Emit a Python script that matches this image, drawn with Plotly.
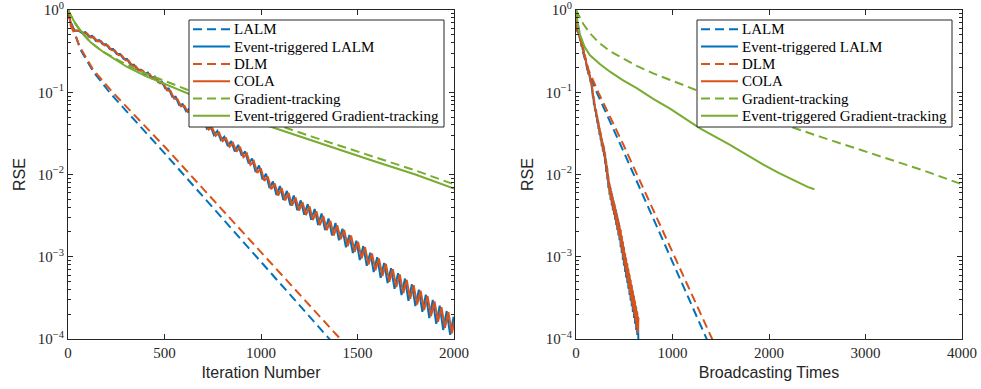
import numpy as np
import plotly.graph_objects as go

# ---------------- data (log10 of RSE) ----------------
# Left panel: iteration number
lalm_it = [0, 10, 28, 62, 131, 218, 500, 800, 1000, 1200, 1400]
lalm_log = [0, -0.12, -0.22, -0.47, -0.75, -1.01, -1.74, -2.53, -3.06, -3.59, -4.12]

dlm_it = [0, 15, 30, 62, 131, 235, 500, 800, 1000, 1200, 1409, 1450]
dlm_log = [0, -0.2, -0.27, -0.45, -0.73, -1.01, -1.66, -2.43, -2.95, -3.46, -4.0, -4.1]

gt_it = [0, 20, 38, 75, 120, 176, 250, 315, 400, 500, 608, 750, 1000, 1264, 1575, 1800, 2000]
gt_bc = [0, 40, 76, 150, 240, 352, 500, 630, 800, 1000, 1216, 1500, 2000, 2528, 3150, 3600, 4000]
gt_log = [0, -0.09, -0.17, -0.29, -0.4, -0.5, -0.6, -0.68, -0.77, -0.86, -0.96, -1.1, -1.33,
          -1.54, -1.78, -1.95, -2.12]

etgt_it = [0, 10, 30, 62, 114, 183, 304, 400, 500, 608, 750, 1000, 1264, 1575, 1800, 2000]
etgt_it_log = [0, -0.04, -0.13, -0.24, -0.385, -0.51, -0.69, -0.8, -0.9, -1.0, -1.14, -1.38,
               -1.59, -1.83, -2.0, -2.17]

etgt_bc = [0, 10, 24, 41, 90, 145, 250, 352, 480, 629, 800, 974, 1078, 1285, 1596, 1800,
           1941, 2100, 2300, 2400, 2470]
etgt_bc_log = [0, -0.12, -0.22, -0.3, -0.45, -0.55, -0.66, -0.75, -0.85, -0.95, -1.08, -1.2,
               -1.28, -1.44, -1.64, -1.785, -1.88, -1.98, -2.1, -2.15, -2.18]

# Event-triggered LALM samples (every 18 iterations)
etlalm_it = list(range(0, 2017, 18))
etlalm_log = [0, -0.2, -0.25, -0.25, -0.28, -0.27, -0.325, -0.315, -0.375, -0.365, -0.415, -0.415,
              -0.475, -0.475, -0.535, -0.535, -0.595, -0.595, -0.665, -0.665, -0.725, -0.725, -0.78,
              -0.76, -0.83, -0.81, -0.88, -0.87, -0.955, -0.955, -1.055, -1.055, -1.155, -1.145,
              -1.23, -1.2, -1.3, -1.27, -1.375, -1.335, -1.445, -1.405, -1.52, -1.47, -1.58, -1.54,
              -1.655, -1.595, -1.72, -1.64, -1.77, -1.72, -1.865, -1.805, -1.97, -1.89, -2.06,
              -1.99, -2.165, -2.085, -2.25, -2.14, -2.31, -2.2, -2.375, -2.255, -2.435, -2.315,
              -2.49, -2.36, -2.55, -2.42, -2.615, -2.475, -2.675, -2.535, -2.74, -2.59, -2.8, -2.66,
              -2.885, -2.735, -2.955, -2.805, -3.04, -2.87, -3.11, -2.95, -3.185, -3.005, -3.255,
              -3.075, -3.32, -3.14, -3.39, -3.2, -3.465, -3.265, -3.535, -3.335, -3.6, -3.4, -3.67,
              -3.46, -3.745, -3.525, -3.815, -3.595, -3.89, -3.66, -3.95, -3.73, -4.05]

# COLA samples
cola_it = [0] + list(range(9, 2008, 18))
cola_log = [0, -0.12, -0.24, -0.255, -0.255, -0.285, -0.285, -0.333, -0.332, -0.383, -0.377,
            -0.428, -0.432, -0.488, -0.492, -0.548, -0.552, -0.608, -0.617, -0.678, -0.682, -0.738,
            -0.737, -0.787, -0.778, -0.837, -0.828, -0.892, -0.893, -0.976, -0.984, -1.076, -1.084,
            -1.171, -1.164, -1.241, -1.224, -1.311, -1.294, -1.385, -1.36, -1.455, -1.43, -1.529,
            -1.491, -1.594, -1.561, -1.663, -1.617, -1.723, -1.662, -1.788, -1.747, -1.882, -1.838,
            -1.981, -1.924, -2.076, -2.024, -2.18, -2.11, -2.255, -2.165, -2.315, -2.225, -2.379,
            -2.281, -2.439, -2.336, -2.493, -2.387, -2.553, -2.447, -2.617, -2.503, -2.677, -2.563,
            -2.742, -2.618, -2.787, -2.673, -2.871, -2.744, -2.941, -2.819, -3.02, -2.885, -3.095,
            -2.96, -3.164, -3.021, -3.234, -3.086, -3.304, -3.151, -3.369, -3.216, -3.443, -3.282,
            -3.513, -3.347, -3.582, -3.413, -3.647, -3.478, -3.721, -3.544, -3.791, -3.614, -3.865,
            -3.675, -3.93, -3.74]

# Broadcasting times at each event-triggered sample
et_bc = [0, 4, 9, 15, 21, 27, 33, 39, 45, 51, 57, 63, 69, 75, 81, 87, 93, 99, 105, 111, 117, 122,
         128, 134, 140, 146, 152, 157, 163, 169, 175, 181, 186, 192, 198, 204, 210, 215, 221, 227,
         233, 238, 244, 250, 256, 261, 267, 273, 279, 284, 290, 296, 302, 307, 313, 319, 325, 330,
         336, 342, 348, 353, 359, 365, 371, 376, 382, 388, 394, 399, 405, 411, 417, 422, 428, 434,
         440, 445, 451, 457, 463, 468, 474, 480, 486, 491, 497, 503, 509, 514, 520, 526, 532, 537,
         543, 549, 555, 560, 566, 572, 578, 583, 589, 595, 601, 606, 612, 618, 624, 629, 635, 641,
         647]

names = ["LALM", "Event-triggered LALM", "DLM", "COLA", "Gradient-tracking",
         "Event-triggered Gradient-tracking"]
y_ticks = [1e-4, 1e-3, 1e-2, 1e-1, 1]
y_ticktext = ["10<sup>\u22124</sup>", "10<sup>\u22123</sup>", "10<sup>\u22122</sup>",
              "10<sup>\u22121</sup>", "10<sup>0</sup>"]

# ---------------- styling ----------------
BLUE = "#0072BD"
ORANGE = "#D95319"
GREEN = "#77AC30"
DASH = "9px,5px"
LW = 2
AX = "#262626"
SERIF = "Liberation Serif, Times New Roman, Times, serif"
SANS = "Liberation Sans, Arial, Helvetica, sans-serif"

colors = [BLUE, BLUE, ORANGE, ORANGE, GREEN, GREEN]
dashes = [DASH, "solid", DASH, "solid", DASH, "solid"]

def r(v):
    return 10 ** np.array(v, dtype=float)

fig = go.Figure()

def add(x, ylog, i, xa, ya):
    fig.add_trace(go.Scatter(x=x, y=r(ylog), mode="lines", name=names[i],
                             line=dict(color=colors[i], width=LW, dash=dashes[i]),
                             xaxis=xa, yaxis=ya, showlegend=False))

# left panel
add(lalm_it, lalm_log, 0, "x", "y")
add(etlalm_it, etlalm_log, 1, "x", "y")
add(dlm_it, dlm_log, 2, "x", "y")
add(cola_it, cola_log, 3, "x", "y")
add(gt_it, gt_log, 4, "x", "y")
add(etgt_it, etgt_it_log, 5, "x", "y")

# right panel
add(lalm_it, lalm_log, 0, "x2", "y2")
add(et_bc, etlalm_log, 1, "x2", "y2")
add(dlm_it, dlm_log, 2, "x2", "y2")
add(et_bc, cola_log, 3, "x2", "y2")
add(gt_bc, gt_log, 4, "x2", "y2")
add(etgt_bc, etgt_bc_log, 5, "x2", "y2")

W, H = 981, 389
ml, mr, mt, mb = 68, 19, 10, 50
pw = W - ml - mr
ph = H - mt - mb
d1 = [0, (454 - ml) / pw]
d2 = [(576 - ml) / pw, 1]

def px(xp):
    return (xp - ml) / pw

def py(yp):
    return 1 - (yp - mt) / ph

tickfont = dict(family=SERIF, size=15, color=AX)
titlefont = dict(family=SANS, size=16, color=AX)
minor_vals = [m * 10.0 ** e for e in range(-4, 0) for m in range(2, 10)]

def xax(dom, rng, dt, title, anchor):
    return dict(domain=dom, range=rng, dtick=dt, tick0=0, showgrid=False, zeroline=False,
                anchor=anchor, automargin=False, ticklabeloverflow="allow",
                showline=True, linecolor=AX, linewidth=1, mirror="ticks",
                ticks="inside", ticklen=5, tickcolor=AX, tickfont=tickfont,
                title=dict(text=title, font=titlefont, standoff=6))

def yax(anchor):
    return dict(type="log", range=[-4, 0], domain=[0, 1], anchor=anchor, automargin=False,
                ticklabeloverflow="allow",
                tickmode="array", tickvals=y_ticks, ticktext=y_ticktext,
                showgrid=False, zeroline=False, showline=True, linecolor=AX, linewidth=1,
                mirror="ticks", ticks="inside", ticklen=5, tickcolor=AX, tickfont=tickfont,
                minor=dict(tickmode="array", tickvals=minor_vals, ticks="inside", ticklen=3,
                           tickcolor=AX, showgrid=False),
                title=dict(text="RSE", font=titlefont, standoff=8))

# ---------------- legend boxes (drawn as layout decorations) ----------------
shapes = []
annotations = []
row_y = [29.3, 46.6, 63.9, 81.2, 98.5, 115.8]
for (bx0, bx1, lx0, lx1, tx) in [(189, 444, 193, 230, 232), (697, 952, 701, 738, 740)]:
    shapes.append(dict(type="rect", xref="paper", yref="paper", layer="above",
                       x0=px(bx0), x1=px(bx1), y0=py(127), y1=py(20),
                       fillcolor="white", line=dict(color=AX, width=1)))
    for i, yy in enumerate(row_y):
        shapes.append(dict(type="line", xref="paper", yref="paper", layer="above",
                           x0=px(lx0), x1=px(lx1), y0=py(yy), y1=py(yy),
                           line=dict(color=colors[i], width=LW, dash=dashes[i])))
        annotations.append(dict(xref="paper", yref="paper", x=px(tx), y=py(yy),
                                xanchor="left", yanchor="middle", showarrow=False,
                                text=names[i], font=dict(family=SERIF, size=15, color="#000000")))

fig.update_layout(
    width=W, height=H, margin=dict(l=ml, r=mr, t=mt, b=mb, autoexpand=False),
    paper_bgcolor="white", plot_bgcolor="white", showlegend=False,
    xaxis=xax(d1, [0, 2000], 500, "Iteration Number", "y"),
    yaxis=yax("x"),
    xaxis2=xax(d2, [0, 4000], 1000, "Broadcasting Times", "y2"),
    yaxis2=yax("x2"),
    shapes=shapes, annotations=annotations,
)

fig.write_html("out.html")
